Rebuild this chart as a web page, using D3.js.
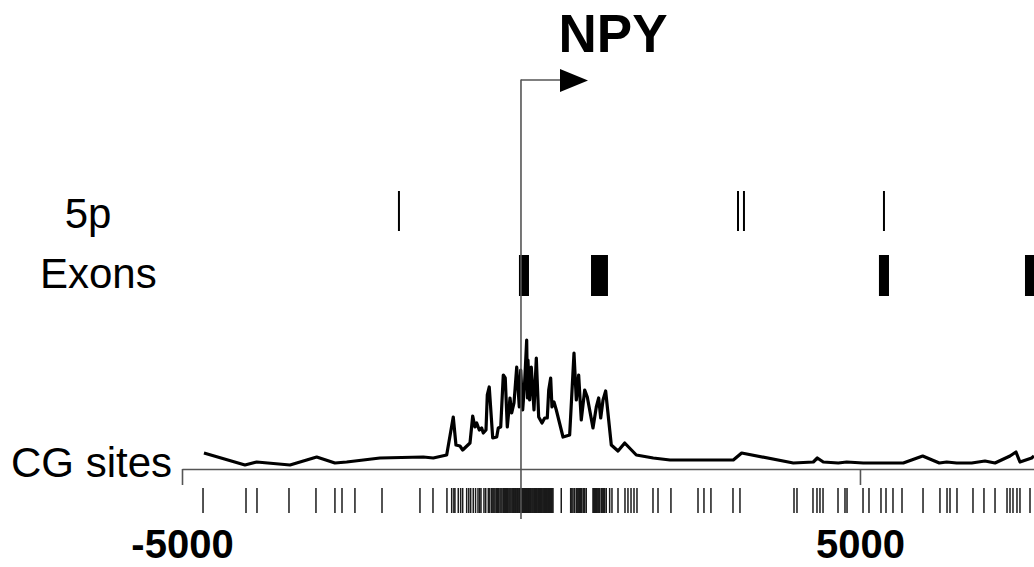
<!DOCTYPE html>
<html>
<head>
<meta charset="utf-8">
<script src="https://cdn.jsdelivr.net/npm/d3@7"></script>
<style>
  html, body { margin: 0; padding: 0; background: #fff; }
  svg { display: block; }
  text { font-family: "Liberation Sans", Arial, sans-serif; fill: #000; }
</style>
</head>
<body>
<svg id="chart" width="1034" height="567"></svg>
<script>
// ---- data (positions in bp relative to TSS) ----
const geneName = "NPY";
const trackLabels = ["5p", "Exons", "CG sites"];
const axisTicks = [-5000, 5000];
const fivePrime = [-1800, 3201, 3289, 5354];
const exonStarts = [-30, 1033, 5280, 7434];
const exonEnds = [118, 1283, 5428, 7700];
const densityPos = [-4676,-4071,-3898,-3407,-3013,-2744,-2571,-2080,-1441,-1294,-1096,-999,-959,-900,-860,-752,-712,-679,-653,-615,-580,-556,-516,-497,-468,-417,-358,-335,-299,-261,-232,-202,-162,-137,-103,-63,-25,-4,25,52,84,96,103,128,152,192,226,261,310,350,388,409,438,457,487,521,620,718,782,816,851,889,940,978,1062,1111,1146,1176,1210,1249,1332,1431,1530,1701,1951,2198,3132,3255,4017,4312,4371,4459,4680,4804,5049,5344,5639,5925,6170,6279,6427,6648,6844,6992,7213,7301,7360,7533,7567];
const densityVal = [16,4,7,4,12,6,7,11,12,11,14,52,24,23,19,26,53,42,46,39,41,36,39,74,82,31,32,41,42,94,91,42,71,56,66,102,62,99,59,84,129,71,109,69,102,59,111,52,46,51,51,79,91,62,67,59,32,34,116,69,94,49,79,72,41,62,71,51,69,78,24,18,26,14,11,9,9,16,6,7,11,7,6,7,6,6,6,13,6,7,6,6,8,6,13,17,7,11,13];
const cgSites = [-4690,-4056,-3894,-3422,-3024,-2744,-2640,-2449,-2050,-1490,-1298,-1092,-1022,-990,-974,-925,-890,-860,-801,-770,-742,-704,-670,-634,-610,-590,-546,-520,-482,-460,-432,-415,-400,-384,-365,-350,-330,-310,-295,-280,-261,-250,-240,-225,-211,-200,-190,-175,-162,-148,-133,-120,-110,-103,-90,-80,-74,-60,-50,-44,-30,-20,-15,0,8,15,22,30,37,44,52,60,67,74,82,90,97,103,110,115,122,128,140,150,165,177,190,200,213,226,238,250,262,276,288,300,312,325,337,350,362,373,387,400,410,423,436,450,460,472,594,733,750,767,790,816,828,840,853,866,878,890,915,927,940,963,1062,1073,1085,1098,1111,1123,1135,1148,1161,1185,1197,1210,1222,1235,1258,1308,1342,1431,1534,1578,1623,1667,1711,1947,2021,2212,2611,2699,2802,3127,3230,4027,4071,4307,4366,4410,4455,4676,4779,4809,5045,5133,5310,5384,5487,5620,5930,6180,6284,6328,6431,6667,6829,6992,7169,7213,7257,7316,7360,7508];

// ---- drawing ----
const svg = d3.select("#chart");
const x = d3.scaleLinear().domain([-5000, 7567]).range([182, 1034]);
const baseY = 469;
const y = d3.scaleLinear().domain([0, 130]).range([baseY, 339]);

// labels
const labelPos = [{x: 88, y: 228, a: "middle"}, {x: 40, y: 288, a: "start"}, {x: 11, y: 477, a: "start"}];
svg.selectAll("text.track").data(trackLabels).join("text")
  .attr("class", "track")
  .attr("x", (d, i) => labelPos[i].x)
  .attr("y", (d, i) => labelPos[i].y)
  .attr("text-anchor", (d, i) => labelPos[i].a)
  .attr("font-size", 42)
  .text(d => d);

// 5p marks
svg.selectAll("line.fp").data(fivePrime).join("line")
  .attr("class", "fp")
  .attr("x1", d => x(d)).attr("x2", d => x(d))
  .attr("y1", 191).attr("y2", 231)
  .attr("stroke", "#000").attr("stroke-width", 2);

// exons
svg.selectAll("rect.exon").data(exonStarts).join("rect")
  .attr("class", "exon")
  .attr("x", d => x(d))
  .attr("width", (d, i) => x(exonEnds[i]) - x(d))
  .attr("y", 255).attr("height", 41)
  .attr("fill", "#000");

// CG sites ticks
svg.selectAll("line.cg").data(cgSites).join("line")
  .attr("class", "cg")
  .attr("x1", d => x(d)).attr("x2", d => x(d))
  .attr("y1", 488).attr("y2", 513)
  .attr("stroke", "#1a1a1a").attr("stroke-width", 1.5);

// axis
const axis = d3.axisBottom(x).tickValues(axisTicks).tickSize(16).tickSizeOuter(0).tickPadding(45)
  .tickFormat(d => String(d));
const gAxis = svg.append("g").attr("transform", `translate(0,${baseY})`).call(axis);
gAxis.select(".domain").attr("stroke", "#555").attr("stroke-width", 1.6);
gAxis.selectAll(".tick line").attr("stroke", "#555").attr("stroke-width", 1.6);
gAxis.selectAll(".tick text")
  .attr("font-family", "Liberation Sans, Arial, sans-serif")
  .attr("font-size", 40).attr("font-weight", "bold").attr("fill", "#000");

// density line
const line = d3.line().x(d => x(d[0])).y(d => y(d[1]));
svg.append("path")
  .datum(densityPos.map((p, i) => [p, densityVal[i]]))
  .attr("d", line)
  .attr("fill", "none").attr("stroke", "#000").attr("stroke-width", 3.2)
  .attr("stroke-linejoin", "round");

// TSS line + arrow
const tx = x(0);
svg.append("line").attr("x1", tx).attr("x2", tx).attr("y1", 79.5).attr("y2", 519)
  .attr("stroke", "#555").attr("stroke-width", 1.6);
svg.append("line").attr("x1", tx).attr("x2", 561).attr("y1", 80).attr("y2", 80)
  .attr("stroke", "#555").attr("stroke-width", 1.6);
svg.append("path").attr("d", "M560,69L588,80.5L560,92Z").attr("fill", "#000");

svg.append("text").attr("x", 613).attr("y", 52).attr("text-anchor", "middle")
  .attr("font-size", 53).attr("font-weight", "bold").text(geneName);
</script>
</body>
</html>
